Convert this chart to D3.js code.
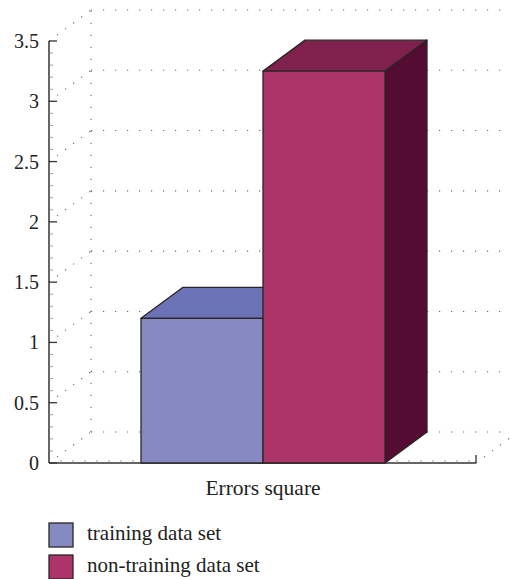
<!DOCTYPE html>
<html>
<head>
<meta charset="utf-8">
<script src="https://cdn.jsdelivr.net/npm/d3@7/dist/d3.min.js"></script>
<style>
  body { margin: 0; background: #fff; }
  svg { display: block; }
  svg text { font-family: "Liberation Serif", "Times New Roman", "DejaVu Serif", serif; }
</style>
</head>
<body>
<svg id="chart" width="510" height="579"></svg>
<script>
// Chart data
const categories = ["Errors square"];
const seriesNames = ["training data set", "non-training data set"];
const seriesValues = [1.2, 3.25];
const yTicks = [0, 0.5, 1, 1.5, 2, 2.5, 3, 3.5];
const yTickLabels = ["0", "0.5", "1", "1.5", "2", "2.5", "3", "3.5"];

// Face colours per series: front, top, side
const palette = [
  { front: "#8689c2", top: "#6b72b5", side: "#4d5496" },
  { front: "#ad3469", top: "#80204d", side: "#550c32" }
];

const svg = d3.select("#chart");
const plotLeft = 49, plotRight = 476, plotBottom = 463, plotTop = 41;
const depth = { dx: 42, dy: -31 };

const y = d3.scaleLinear().domain([0, 3.5]).range([plotBottom, plotTop]);
const xCat = d3.scaleBand().domain(categories).range([plotLeft, plotRight]);
const xSeries = d3.scaleBand().domain(seriesNames).range([141, 385]);

const dotted = { stroke: "#666", width: 1.1, dash: "1.2,10.8" };

// Back wall and floor grid
const grid = svg.append("g");
function dline(x1, y1, x2, y2, dash) {
  grid.append("line")
    .attr("x1", x1).attr("y1", y1).attr("x2", x2).attr("y2", y2)
    .attr("stroke", dotted.stroke).attr("stroke-width", dotted.width)
    .attr("stroke-dasharray", dash || dotted.dash);
}
// vertical back edge
dline(plotLeft + depth.dx, y(0) + depth.dy, plotLeft + depth.dx, y(3.5) + depth.dy);
yTicks.forEach(t => {
  // back horizontal gridline
  dline(plotLeft + depth.dx, y(t) + depth.dy, plotRight + depth.dx, y(t) + depth.dy);
  // diagonal on the left side wall
  dline(plotLeft, y(t), plotLeft + depth.dx, y(t) + depth.dy, "1.2,8.8");
});
// right diagonal at the floor
dline(plotRight, plotBottom, plotRight + depth.dx, plotBottom + depth.dy, "1.2,8.8");

// Axes
const axis = svg.append("g").attr("stroke", "#333").attr("fill", "none");
axis.append("line").attr("x1", plotLeft).attr("x2", plotLeft).attr("y1", y(0)).attr("y2", y(3.5)).attr("stroke-width", 1.5);
axis.append("line").attr("x1", plotLeft).attr("x2", plotRight).attr("y1", plotBottom).attr("y2", plotBottom).attr("stroke-width", 1.5);
// minor y ticks every 0.1
d3.range(0, 35).forEach(i => {
  const v = i / 10;
  if (i % 5 === 0) return;
  axis.append("line").attr("x1", plotLeft).attr("x2", plotLeft + 4).attr("y1", y(v)).attr("y2", y(v)).attr("stroke-width", 0.8).attr("stroke", "#888");
});
// major y ticks
yTicks.forEach(t => {
  axis.append("line").attr("x1", plotLeft).attr("x2", plotLeft + 8).attr("y1", y(t)).attr("y2", y(t)).attr("stroke-width", 1.3);
});
// minor x ticks
for (let xx = plotLeft + 12; xx < plotRight; xx += 12) {
  axis.append("line").attr("x1", xx).attr("x2", xx).attr("y1", plotBottom).attr("y2", plotBottom - 3).attr("stroke-width", 0.8).attr("stroke", "#888");
}
axis.append("line").attr("x1", plotRight).attr("x2", plotRight).attr("y1", plotBottom).attr("y2", plotBottom - 8).attr("stroke-width", 1.3);

// y tick labels
svg.append("g").selectAll("text").data(yTicks).join("text")
  .attr("x", 39).attr("y", d => y(d) + 7)
  .attr("text-anchor", "end").attr("font-size", 20).attr("fill", "#222")
  .text((d, i) => yTickLabels[i]);

// category label
svg.append("text")
  .attr("x", xCat(categories[0]) + xCat.bandwidth() / 2 + 0.5).attr("y", 495)
  .attr("text-anchor", "middle").attr("font-size", 21.5).attr("fill", "#222")
  .text(categories[0]);

// 3D bars
const bars = svg.append("g").attr("stroke", "#2a2525").attr("stroke-width", 1.3).attr("stroke-linejoin", "round");
seriesNames.forEach((name, i) => {
  const x0 = xSeries(name), x1 = x0 + xSeries.bandwidth();
  const y0 = y(0), y1 = y(seriesValues[i]);
  const c = palette[i];
  const dx = depth.dx, dy = depth.dy;
  // side face
  bars.append("path").attr("fill", c.side)
    .attr("d", `M${x1},${y0}L${x1 + dx},${y0 + dy}L${x1 + dx},${y1 + dy}L${x1},${y1}Z`);
  // top face
  bars.append("path").attr("fill", c.top)
    .attr("d", `M${x0},${y1}L${x0 + dx},${y1 + dy}L${x1 + dx},${y1 + dy}L${x1},${y1}Z`);
  // front face
  bars.append("rect").attr("fill", c.front)
    .attr("x", x0).attr("y", y1).attr("width", x1 - x0).attr("height", y0 - y1);
});

// Legend
const legend = svg.append("g");
seriesNames.forEach((name, i) => {
  const ly = 523 + i * 32;
  legend.append("rect").attr("x", 49).attr("y", ly).attr("width", 24).attr("height", 24)
    .attr("fill", palette[i].front).attr("stroke", "#2a2525").attr("stroke-width", 1.3);
  legend.append("text").attr("x", 87).attr("y", ly + 17)
    .attr("font-size", 21).attr("fill", "#222").text(name);
});
</script>
</body>
</html>
